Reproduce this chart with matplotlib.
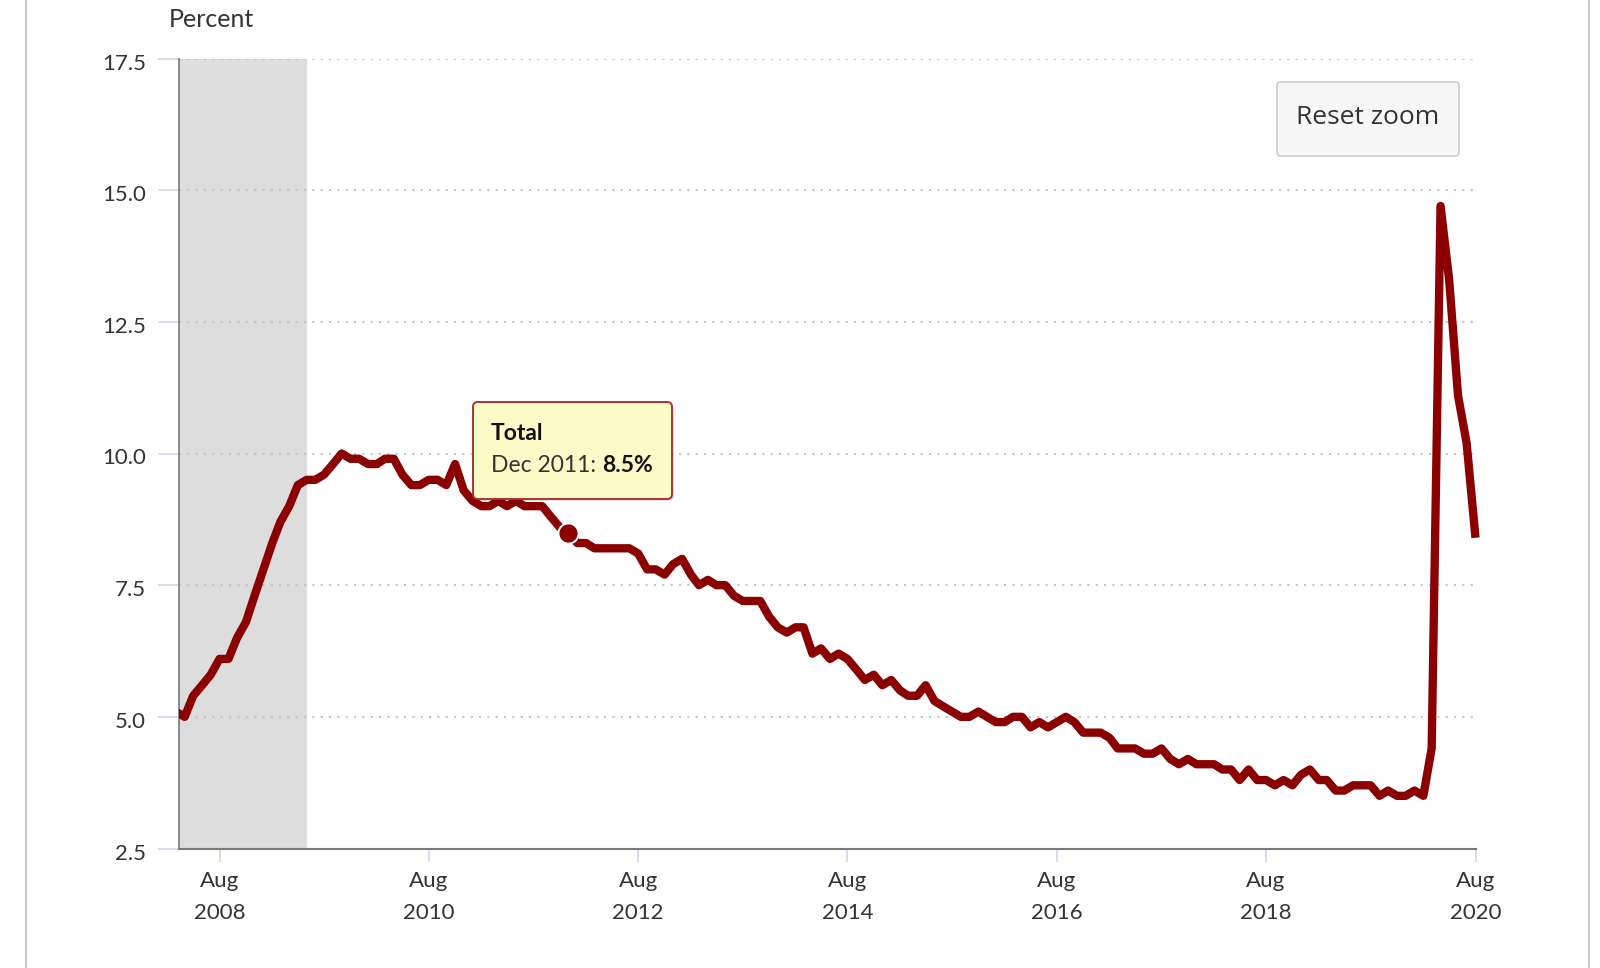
import pandas as pd
import matplotlib
matplotlib.use('Agg')
import matplotlib.pyplot as plt
from matplotlib.patches import FancyBboxPatch, Rectangle
from matplotlib.lines import Line2D
from matplotlib.transforms import ScaledTranslation

# monthly unemployment rate, Mar 2008 - Aug 2020 (percent)
rate_2008 = [5.1, 5.0, 5.4, 5.6, 5.8, 6.1, 6.1, 6.5, 6.8, 7.3]
rate_2009 = [7.8, 8.3, 8.7, 9.0, 9.4, 9.5, 9.5, 9.6, 9.8, 10.0, 9.9, 9.9]
rate_2010 = [9.8, 9.8, 9.9, 9.9, 9.6, 9.4, 9.4, 9.5, 9.5, 9.4, 9.8, 9.3]
rate_2011 = [9.1, 9.0, 9.0, 9.1, 9.0, 9.1, 9.0, 9.0, 9.0, 8.8, 8.6, 8.5]
rate_2012 = [8.3, 8.3, 8.2, 8.2, 8.2, 8.2, 8.2, 8.1, 7.8, 7.8, 7.7, 7.9]
rate_2013 = [8.0, 7.7, 7.5, 7.6, 7.5, 7.5, 7.3, 7.2, 7.2, 7.2, 6.9, 6.7]
rate_2014 = [6.6, 6.7, 6.7, 6.2, 6.3, 6.1, 6.2, 6.1, 5.9, 5.7, 5.8, 5.6]
rate_2015 = [5.7, 5.5, 5.4, 5.4, 5.6, 5.3, 5.2, 5.1, 5.0, 5.0, 5.1, 5.0]
rate_2016 = [4.9, 4.9, 5.0, 5.0, 4.8, 4.9, 4.8, 4.9, 5.0, 4.9, 4.7, 4.7]
rate_2017 = [4.7, 4.6, 4.4, 4.4, 4.4, 4.3, 4.3, 4.4, 4.2, 4.1, 4.2, 4.1]
rate_2018 = [4.1, 4.1, 4.0, 4.0, 3.8, 4.0, 3.8, 3.8, 3.7, 3.8, 3.7, 3.9]
rate_2019 = [4.0, 3.8, 3.8, 3.6, 3.6, 3.7, 3.7, 3.7, 3.5, 3.6, 3.5, 3.5]
rate_2020 = [3.6, 3.5, 4.4, 14.7, 13.3, 11.1, 10.2, 8.4]

rate = (rate_2008 + rate_2009 + rate_2010 + rate_2011 + rate_2012 + rate_2013 + rate_2014
        + rate_2015 + rate_2016 + rate_2017 + rate_2018 + rate_2019 + rate_2020)
months = pd.date_range('2008-03-01', periods=len(rate), freq='MS')

recession = ('2007-12-01', '2009-06-01')
y_ticks = [2.5, 5.0, 7.5, 10.0, 12.5, 15.0, 17.5]
x_ticks = ['2008-08-01', '2010-08-01', '2012-08-01', '2014-08-01',
           '2016-08-01', '2018-08-01', '2020-08-01']
series_name = 'Total'
hover_month = '2011-12-01'

W, H = 1600, 968
LINE = '#8b0000'
TXT = '#333333'

fig = plt.figure(figsize=(W / 100, H / 100), dpi=100)
fig.patch.set_facecolor('white')
top, bottom = 58.5, 848.5
ax = fig.add_axes([178.6 / W, (H - bottom) / H, (1475.5 - 178.6) / W, (bottom - top) / H])

ax.axvspan(pd.Timestamp(recession[0]), pd.Timestamp(recession[1]),
           color='#dddddd', lw=0, zorder=0)
for v in y_ticks[1:]:
    ax.axhline(v, color='#c4c4c4', lw=1.5, ls=(0, (1, 3)), zorder=1)

line, = ax.plot(months, rate, color=LINE, lw=6, solid_joinstyle='round',
                solid_capstyle='butt', zorder=3)
line.set_clip_path(Rectangle((0, -0.05), 1.03, 1.1, transform=ax.transAxes))

hi = list(months).index(pd.Timestamp(hover_month))
ax.plot(months[hi], rate[hi], 'o', ms=14.5, mfc=LINE, mec='white', mew=1.4, zorder=4)

ax.set_xlim(pd.Timestamp('2008-03-11'), pd.Timestamp('2020-08-01'))
ax.set_ylim(2.5, 17.5)

for s in ['top', 'right']:
    ax.spines[s].set_visible(False)
ax.spines['left'].set_color('#7a7a7a')
ax.spines['left'].set_linewidth(1.2)
ax.spines['bottom'].set_color('#7a7a7a')
ax.spines['bottom'].set_linewidth(1.5)

ax.set_yticks(y_ticks)
ax.set_yticklabels([f'{v:.1f}' for v in y_ticks])
tk = [pd.Timestamp(t) for t in x_ticks]
ax.set_xticks(tk)
ax.set_xticklabels([t.strftime('%b\n%Y') for t in tk], linespacing=1.75)
ax.tick_params(axis='y', length=15, width=1.1, color='#ccd6eb', pad=8.5,
               labelsize=16, labelcolor=TXT)
ax.tick_params(axis='x', length=9.5, width=1.1, color='#ccd6eb', pad=7,
               labelsize=16, labelcolor=TXT)
shift = ScaledTranslation(0, -3 / 100, fig.dpi_scale_trans)
for lab in ax.get_yticklabels():
    lab.set_family('Lato')
    lab.set_transform(lab.get_transform() + shift)
for lab in ax.get_xticklabels():
    lab.set_family('Lato')

px = fig.dpi_scale_trans


def P(x, y):
    return (x / 100, (H - y) / 100)


fig.text(*P(169, 26.7), 'Percent', transform=px, fontsize=18, family='Lato',
         color=TXT, va='baseline')

# page borders
fig.add_artist(Line2D([26 / W, 26 / W], [0, 1], color='#c8c8c8', lw=1.5))
fig.add_artist(Line2D([1589 / W, 1589 / W], [0, 1], color='#c8c8c8', lw=1.5))

# reset zoom button
x0, y0, x1, y1 = 1277, 82, 1459, 156
fig.add_artist(FancyBboxPatch(P(x0, y1), (x1 - x0) / 100, (y1 - y0) / 100,
                              boxstyle='round,pad=0,rounding_size=0.04',
                              transform=px, fc='#f7f7f7', ec='#cccccc', lw=1.2))
fig.text(*P((x0 + x1) / 2, 124), 'Reset zoom', transform=px, fontsize=19,
         family='Open Sans', color=TXT, ha='center', va='baseline')

# tooltip
x0, y0, x1, y1 = 473, 402, 672, 499
fig.add_artist(FancyBboxPatch(P(x0 + 2, y1 + 2), (x1 - x0) / 100, (y1 - y0) / 100,
                              boxstyle='round,pad=0,rounding_size=0.05',
                              transform=px, fc='#000000', ec='none', alpha=0.12))
fig.add_artist(FancyBboxPatch(P(x0, y1), (x1 - x0) / 100, (y1 - y0) / 100,
                              boxstyle='round,pad=0,rounding_size=0.05',
                              transform=px, fc='#fbfbc8', ec='#a83434', lw=1.4))
fig.text(*P(491, 440), series_name, transform=px, fontsize=16.5, family='Lato',
         weight='bold', color='#111111', va='baseline')
t1 = fig.text(*P(491, 472), months[hi].strftime('%b %Y') + ': ', transform=px,
              fontsize=16.5, family='Lato', color=TXT, va='baseline')
fig.canvas.draw()
bb = t1.get_window_extent()
fig.text(bb.x1 / 100, (H - 472) / 100, f'{rate[hi]}%', transform=px, fontsize=16.5,
         family='Lato', weight='bold', color='#111111', va='baseline')

fig.savefig('out.png', dpi=100)
